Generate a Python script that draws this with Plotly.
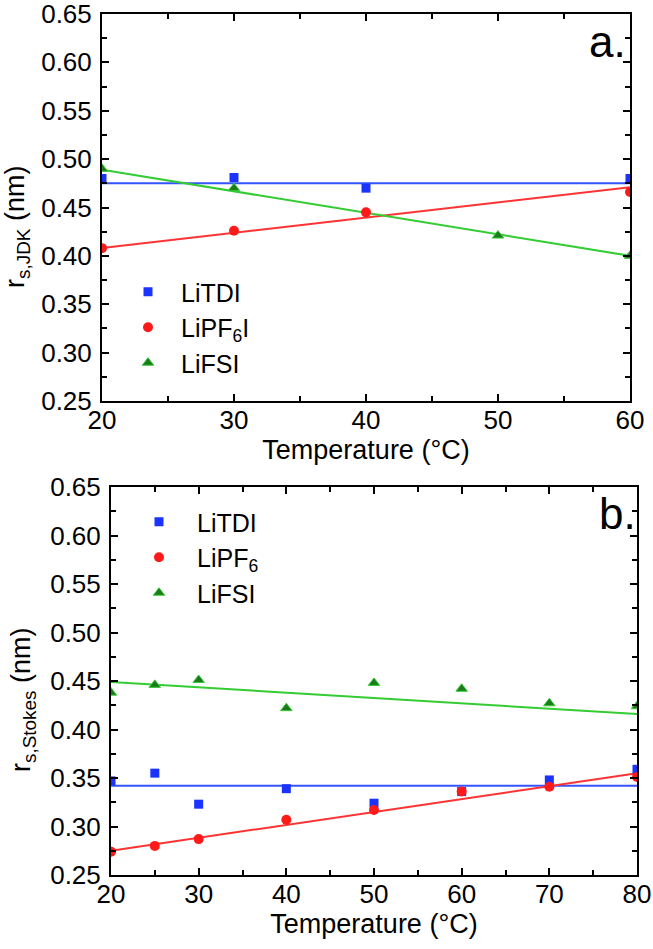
import plotly.graph_objects as go

# ---------------- Panel a data ----------------
a_temp_litdi = [20, 30, 40, 60]
a_litdi = [0.480, 0.481, 0.470, 0.480]
a_temp_lipf6 = [20, 30, 40, 60]
a_lipf6 = [0.408, 0.426, 0.445, 0.466]
a_temp_lifsi = [20, 30, 50, 60]
a_lifsi = [0.490, 0.470, 0.421, 0.400]
a_fit_temp = [20, 60]
a_fit_litdi = [0.475, 0.475]
a_fit_lipf6 = [0.408, 0.471]
a_fit_lifsi = [0.489, 0.400]

# ---------------- Panel b data ----------------
b_temp = [20, 25, 30, 40, 50, 60, 70, 80]
b_litdi = [0.347, 0.355, 0.323, 0.339, 0.324, 0.336, 0.348, 0.359]
b_lipf6 = [0.274, 0.280, 0.287, 0.307, 0.317, 0.336, 0.341, 0.351]
b_lifsi = [0.438, 0.446, 0.451, 0.422, 0.448, 0.442, 0.427, 0.424]
b_fit_temp = [20, 80]
b_fit_litdi = [0.342, 0.342]
b_fit_lipf6 = [0.275, 0.355]
b_fit_lifsi = [0.449, 0.416]

# ---------------- tick labels ----------------
y_ticks = [0.25, 0.30, 0.35, 0.40, 0.45, 0.50, 0.55, 0.60, 0.65]
y_ticklabels = ["0.25", "0.30", "0.35", "0.40", "0.45", "0.50", "0.55", "0.60", "0.65"]
a_x_ticks = [20, 30, 40, 50, 60]
b_x_ticks = [20, 30, 40, 50, 60, 70, 80]

a_names = ["LiTDI", "LiPF<sub>6</sub>I", "LiFSI"]
b_names = ["LiTDI", "LiPF<sub>6</sub>", "LiFSI"]
x_title = "Temperature (°C)"
a_y_title = "r<sub>s,JDK</sub> (nm)"
b_y_title = "r<sub>s,Stokes</sub> (nm)"

BLUE_M = "#1a33ff"
BLUE_L = "#3355ff"
RED_M = "#ff1a1a"
RED_L = "#ff3333"
GREEN_M = "#1c7a1c"
GREEN_L = "#33cc33"
FONT = "Liberation Sans, Arial, sans-serif"

W, H = 653, 949

fig = go.Figure()

for ys, c in [(a_fit_litdi, BLUE_L), (a_fit_lipf6, RED_L), (a_fit_lifsi, GREEN_L)]:
    fig.add_trace(go.Scatter(x=a_fit_temp, y=ys, mode="lines", line=dict(color=c, width=2),
                             showlegend=False, xaxis="x", yaxis="y", hoverinfo="skip"))
fig.add_trace(go.Scatter(x=a_temp_litdi, y=a_litdi, mode="markers", name=a_names[0],
                         marker=dict(symbol="square", size=9, color=BLUE_M),
                         xaxis="x", yaxis="y", legend="legend"))
fig.add_trace(go.Scatter(x=a_temp_lipf6, y=a_lipf6, mode="markers", name=a_names[1],
                         marker=dict(symbol="circle", size=10, color=RED_M),
                         xaxis="x", yaxis="y", legend="legend"))
fig.add_trace(go.Scatter(x=a_temp_lifsi, y=a_lifsi, mode="markers", name=a_names[2],
                         marker=dict(symbol="triangle-up", size=10, color=GREEN_M,
                                     line=dict(color=GREEN_L, width=1)),
                         xaxis="x", yaxis="y", legend="legend"))

for ys, c in [(b_fit_litdi, BLUE_L), (b_fit_lipf6, RED_L), (b_fit_lifsi, GREEN_L)]:
    fig.add_trace(go.Scatter(x=b_fit_temp, y=ys, mode="lines", line=dict(color=c, width=2),
                             showlegend=False, xaxis="x2", yaxis="y2", hoverinfo="skip"))
fig.add_trace(go.Scatter(x=b_temp, y=b_litdi, mode="markers", name=b_names[0],
                         marker=dict(symbol="square", size=9, color=BLUE_M),
                         xaxis="x2", yaxis="y2", legend="legend2"))
fig.add_trace(go.Scatter(x=b_temp, y=b_lipf6, mode="markers", name=b_names[1],
                         marker=dict(symbol="circle", size=10, color=RED_M),
                         xaxis="x2", yaxis="y2", legend="legend2"))
fig.add_trace(go.Scatter(x=b_temp, y=b_lifsi, mode="markers", name=b_names[2],
                         marker=dict(symbol="triangle-up", size=10, color=GREEN_M,
                                     line=dict(color=GREEN_L, width=1)),
                         xaxis="x2", yaxis="y2", legend="legend2"))


def px_x(p):
    return p / W


def px_y(p):
    return 1 - p / H


tickfont = dict(family=FONT, size=26, color="black")
titlefont = dict(family=FONT, size=27, color="black")

common_axis = dict(showline=True, linecolor="black", linewidth=2, mirror="ticks",
                   ticks="inside", ticklen=7, tickwidth=2, tickcolor="black",
                   showgrid=False, zeroline=False, tickfont=tickfont, automargin=False,
                   ticklabeloverflow="allow")

minor_x = dict(ticks="inside", ticklen=5, tickwidth=2, tickcolor="black", tickmode="linear",
               tick0=25, dtick=10)
minor_y = dict(ticks="inside", ticklen=5, tickwidth=2, tickcolor="black", tickmode="linear",
               tick0=0.275, dtick=0.05)

xa = dict(common_axis, range=[20, 60], tickmode="array", tickvals=a_x_ticks,
          ticktext=[str(v) for v in a_x_ticks], minor=minor_x, ticklabelstandoff=-5,
          domain=[px_x(102), px_x(630)], anchor="y",
          title=dict(text=x_title, font=titlefont, standoff=6))
ya = dict(common_axis, range=[0.25, 0.65], tickmode="array", tickvals=y_ticks,
          ticktext=y_ticklabels, minor=minor_y, ticklabelstandoff=3,
          domain=[px_y(401), px_y(14)], anchor="x")
xb = dict(common_axis, range=[20, 80], tickmode="array", tickvals=b_x_ticks,
          ticktext=[str(v) for v in b_x_ticks], minor=minor_x, ticklabelstandoff=-5,
          domain=[px_x(111), px_x(637)], anchor="y2",
          title=dict(text=x_title, font=titlefont, standoff=6))
yb = dict(common_axis, range=[0.25, 0.65], tickmode="array", tickvals=y_ticks,
          ticktext=y_ticklabels, minor=minor_y, ticklabelstandoff=3,
          domain=[px_y(875), px_y(487)], anchor="x2")

legend_common = dict(font=dict(family=FONT, size=25, color="black"), bgcolor="rgba(0,0,0,0)",
                     borderwidth=0, xanchor="left", yanchor="top", tracegroupgap=0)

fig.update_layout(
    width=W, height=H,
    margin=dict(l=0, r=0, t=0, b=0),
    paper_bgcolor="white", plot_bgcolor="white",
    font=dict(family=FONT, color="black"),
    xaxis=xa, yaxis=ya, xaxis2=xb, yaxis2=yb,
    legend=dict(legend_common, x=px_x(115), y=px_y(269), itemwidth=56),
    legend2=dict(legend_common, x=px_x(121), y=px_y(499), itemwidth=66),
    annotations=[
        dict(text="a.", x=px_x(628), y=px_y(41), xref="paper", yref="paper",
             xanchor="right", yanchor="middle", showarrow=False,
             font=dict(family=FONT, size=44, color="black")),
        dict(text="b.", x=px_x(638), y=px_y(513), xref="paper", yref="paper",
             xanchor="right", yanchor="middle", showarrow=False,
             font=dict(family=FONT, size=44, color="black")),
        dict(text=a_y_title, x=px_x(17), y=px_y(227), xref="paper", yref="paper",
             xanchor="center", yanchor="middle", showarrow=False, textangle=-90,
             font=titlefont),
        dict(text=b_y_title, x=px_x(23), y=px_y(700), xref="paper", yref="paper",
             xanchor="center", yanchor="middle", showarrow=False, textangle=-90,
             font=titlefont),
    ],
)

# remove the browser's default 8px body margin so the figure fills the window exactly
fig.write_html("out.html", config={"displayModeBar": False},
               post_script="document.body.style.margin='0';")
